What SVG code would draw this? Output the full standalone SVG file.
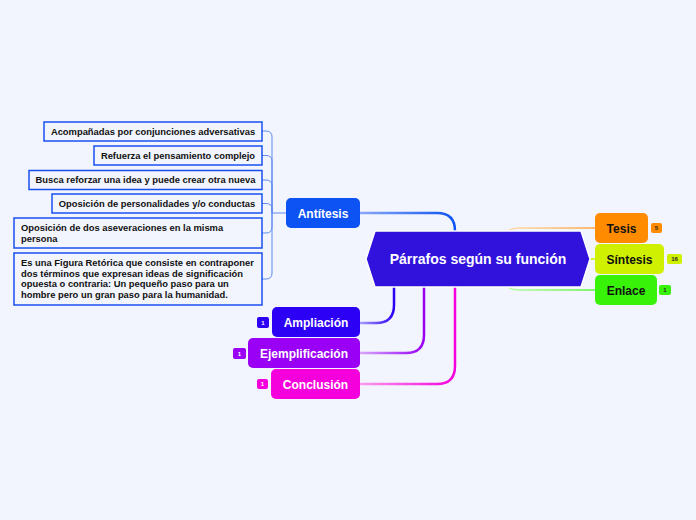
<svg xmlns="http://www.w3.org/2000/svg" width="696" height="520" viewBox="0 0 696 520">
<defs>
<style>
.bg{fill:#f2f5fd}
.t{font-family:"Liberation Sans",Arial,sans-serif;font-weight:bold}
.main{font-size:12px;text-anchor:middle}
.sub{font-size:9.4px;fill:#111}
.subbox{fill:#f2f5fd;stroke:#1a4ff0;stroke-width:1.5}
.badge{font-size:6px;text-anchor:middle}
.br{fill:none;stroke:#5f8af2;stroke-width:1}
.c{fill:none;stroke-width:2.5;stroke-linecap:round}
</style>
<linearGradient id="gAnt" gradientUnits="userSpaceOnUse" x1="455" y1="0" x2="360" y2="0"><stop offset="0" stop-color="#0d52f3"/><stop offset="1" stop-color="#8aa8f7"/></linearGradient>
<linearGradient id="gAmp" gradientUnits="userSpaceOnUse" x1="394" y1="0" x2="360" y2="0"><stop offset="0" stop-color="#2c00f5"/><stop offset="1" stop-color="#a99cfb"/></linearGradient>
<linearGradient id="gEje" gradientUnits="userSpaceOnUse" x1="424" y1="0" x2="360" y2="0"><stop offset="0" stop-color="#9a00f5"/><stop offset="1" stop-color="#d7a8fb"/></linearGradient>
<linearGradient id="gCon" gradientUnits="userSpaceOnUse" x1="455" y1="0" x2="360" y2="0"><stop offset="0" stop-color="#f500dc"/><stop offset="1" stop-color="#fb9cee"/></linearGradient>
<linearGradient id="gTes" gradientUnits="userSpaceOnUse" x1="512" y1="0" x2="595" y2="0"><stop offset="0" stop-color="#ffd9a8"/><stop offset="1" stop-color="#ffa640"/></linearGradient>
<linearGradient id="gEnl" gradientUnits="userSpaceOnUse" x1="512" y1="0" x2="595" y2="0"><stop offset="0" stop-color="#b5fba0"/><stop offset="1" stop-color="#5af53a"/></linearGradient>
</defs>
<rect class="bg" x="0" y="0" width="696" height="520"/>

<g id="connectors">
<path class="c" stroke="url(#gAnt)" d="M455 245 L455 231 Q455 213 437 213 L360 213"/>
<path class="c" stroke="url(#gAmp)" d="M394 270 L394 305 Q394 323 376 323 L360 323"/>
<path class="c" stroke="url(#gEje)" d="M424 270 L424 335 Q424 353 406 353 L360 353"/>
<path class="c" stroke="url(#gCon)" d="M455 270 L455 366 Q455 384 437 384 L360 384"/>
<path fill="none" stroke="url(#gTes)" stroke-width="1.5" d="M495 259 Q500 228 518 228 L595 228"/>
<path fill="none" stroke="#cff000" stroke-width="1.5" d="M478 259 L595 259"/>
<path fill="none" stroke="url(#gEnl)" stroke-width="1.5" d="M495 259 Q500 290 518 290 L595 290"/>
<path class="br" d="M286 213 L272 213"/>
<path class="br" d="M272 213 L272 137 Q272 131 266 131 L262 131"/>
<path class="br" d="M272 213 L272 161 Q272 155.5 266 155.5 L262 155.5"/>
<path class="br" d="M272 213 L272 186 Q272 180 266 180 L262 180"/>
<path class="br" d="M272 213 L272 209 Q272 203.5 266 203.5 L262 203.5"/>
<path class="br" d="M272 213 L272 227 Q272 233 266 233 L262 233"/>
<path class="br" d="M272 213 L272 273 Q272 279 266 279 L262 279"/>
</g>

<g id="central">
<polygon points="366,259 375,231 581,231 590,259 581,287 375,287" fill="#3112dc" stroke="#ffffff" stroke-width="1.5"/>
<text class="t" x="478" y="264" font-size="14" text-anchor="middle" fill="#ffffff">Párrafos según su función</text>
</g>

<g id="antitesis">
<rect x="286" y="198" width="74" height="30" rx="5" fill="#0d52f3"/>
<text class="t main" x="323" y="217.5" fill="#ffffff">Antítesis</text>
</g>

<g id="tesis">
<rect x="595" y="213" width="53" height="30" rx="5" fill="#ff8c00"/>
<text class="t main" x="621.5" y="232.5" fill="#111">Tesis</text>
<rect x="651" y="223" width="11" height="10" rx="2" fill="#ff8c00"/>
<text class="t badge" x="656.5" y="230.3" fill="#222">5</text>
</g>

<g id="sintesis">
<rect x="595" y="244" width="69" height="30" rx="5" fill="#cff000"/>
<text class="t main" x="629.5" y="263.5" fill="#111">Síntesis</text>
<rect x="667" y="254" width="15" height="10" rx="2" fill="#cff000"/>
<text class="t badge" x="674.5" y="261.3" fill="#222">16</text>
</g>

<g id="enlace">
<rect x="595" y="275" width="62" height="30" rx="5" fill="#39f20a"/>
<text class="t main" x="626" y="294.5" fill="#111">Enlace</text>
<rect x="659" y="285" width="12" height="10" rx="2" fill="#39f20a"/>
<text class="t badge" x="665" y="292.3" fill="#222">1</text>
</g>

<g id="ampliacion">
<rect x="272" y="307" width="88" height="30" rx="5" fill="#2c00f5"/>
<text class="t main" x="316" y="326.5" fill="#ffffff">Ampliación</text>
<rect x="257" y="317" width="12" height="11" rx="2" fill="#2c00f5"/>
<text class="t badge" x="263" y="324.8" fill="#ffffff">1</text>
</g>

<g id="ejemplificacion">
<rect x="248" y="338" width="112" height="30" rx="5" fill="#9a00f5"/>
<text class="t main" x="304" y="357.5" fill="#ffffff">Ejemplificación</text>
<rect x="233" y="348" width="13" height="11" rx="2" fill="#9a00f5"/>
<text class="t badge" x="239.5" y="355.8" fill="#ffffff">1</text>
</g>

<g id="conclusion">
<rect x="271" y="369" width="89" height="30" rx="5" fill="#f500dc"/>
<text class="t main" x="315.5" y="388.5" fill="#ffffff">Conclusión</text>
<rect x="257" y="379" width="11" height="10" rx="2" fill="#f500dc"/>
<text class="t badge" x="262.5" y="386.3" fill="#ffffff">1</text>
</g>

<g id="n1">
<rect class="subbox" x="44" y="122" width="218" height="19"/>
<text class="t sub" x="153" y="134.5" text-anchor="middle">Acompañadas por conjunciones adversativas</text>
</g>
<g id="n2">
<rect class="subbox" x="94" y="146" width="168" height="19"/>
<text class="t sub" x="178" y="158.5" text-anchor="middle">Refuerza el pensamiento complejo</text>
</g>
<g id="n3">
<rect class="subbox" x="29" y="170.5" width="233" height="19"/>
<text class="t sub" x="145.5" y="183" text-anchor="middle">Busca reforzar una idea y puede crear otra nueva</text>
</g>
<g id="n4">
<rect class="subbox" x="52" y="194" width="210" height="19"/>
<text class="t sub" x="157" y="206.5" text-anchor="middle">Oposición de personalidades y/o conductas</text>
</g>
<g id="n5">
<rect class="subbox" x="14" y="218" width="248" height="30"/>
<text class="t sub" x="21" y="231">Oposición de dos aseveraciones en la misma</text>
<text class="t sub" x="21" y="242">persona</text>
</g>
<g id="n6">
<rect class="subbox" x="14" y="253" width="248" height="52"/>
<text class="t sub" x="21" y="266">Es una Figura Retórica que consiste en contraponer</text>
<text class="t sub" x="21" y="276.5">dos términos que expresan ideas de significación</text>
<text class="t sub" x="21" y="287">opuesta o contraria: Un pequeño paso para un</text>
<text class="t sub" x="21" y="297.5">hombre pero un gran paso para la humanidad.</text>
</g>
</svg>
